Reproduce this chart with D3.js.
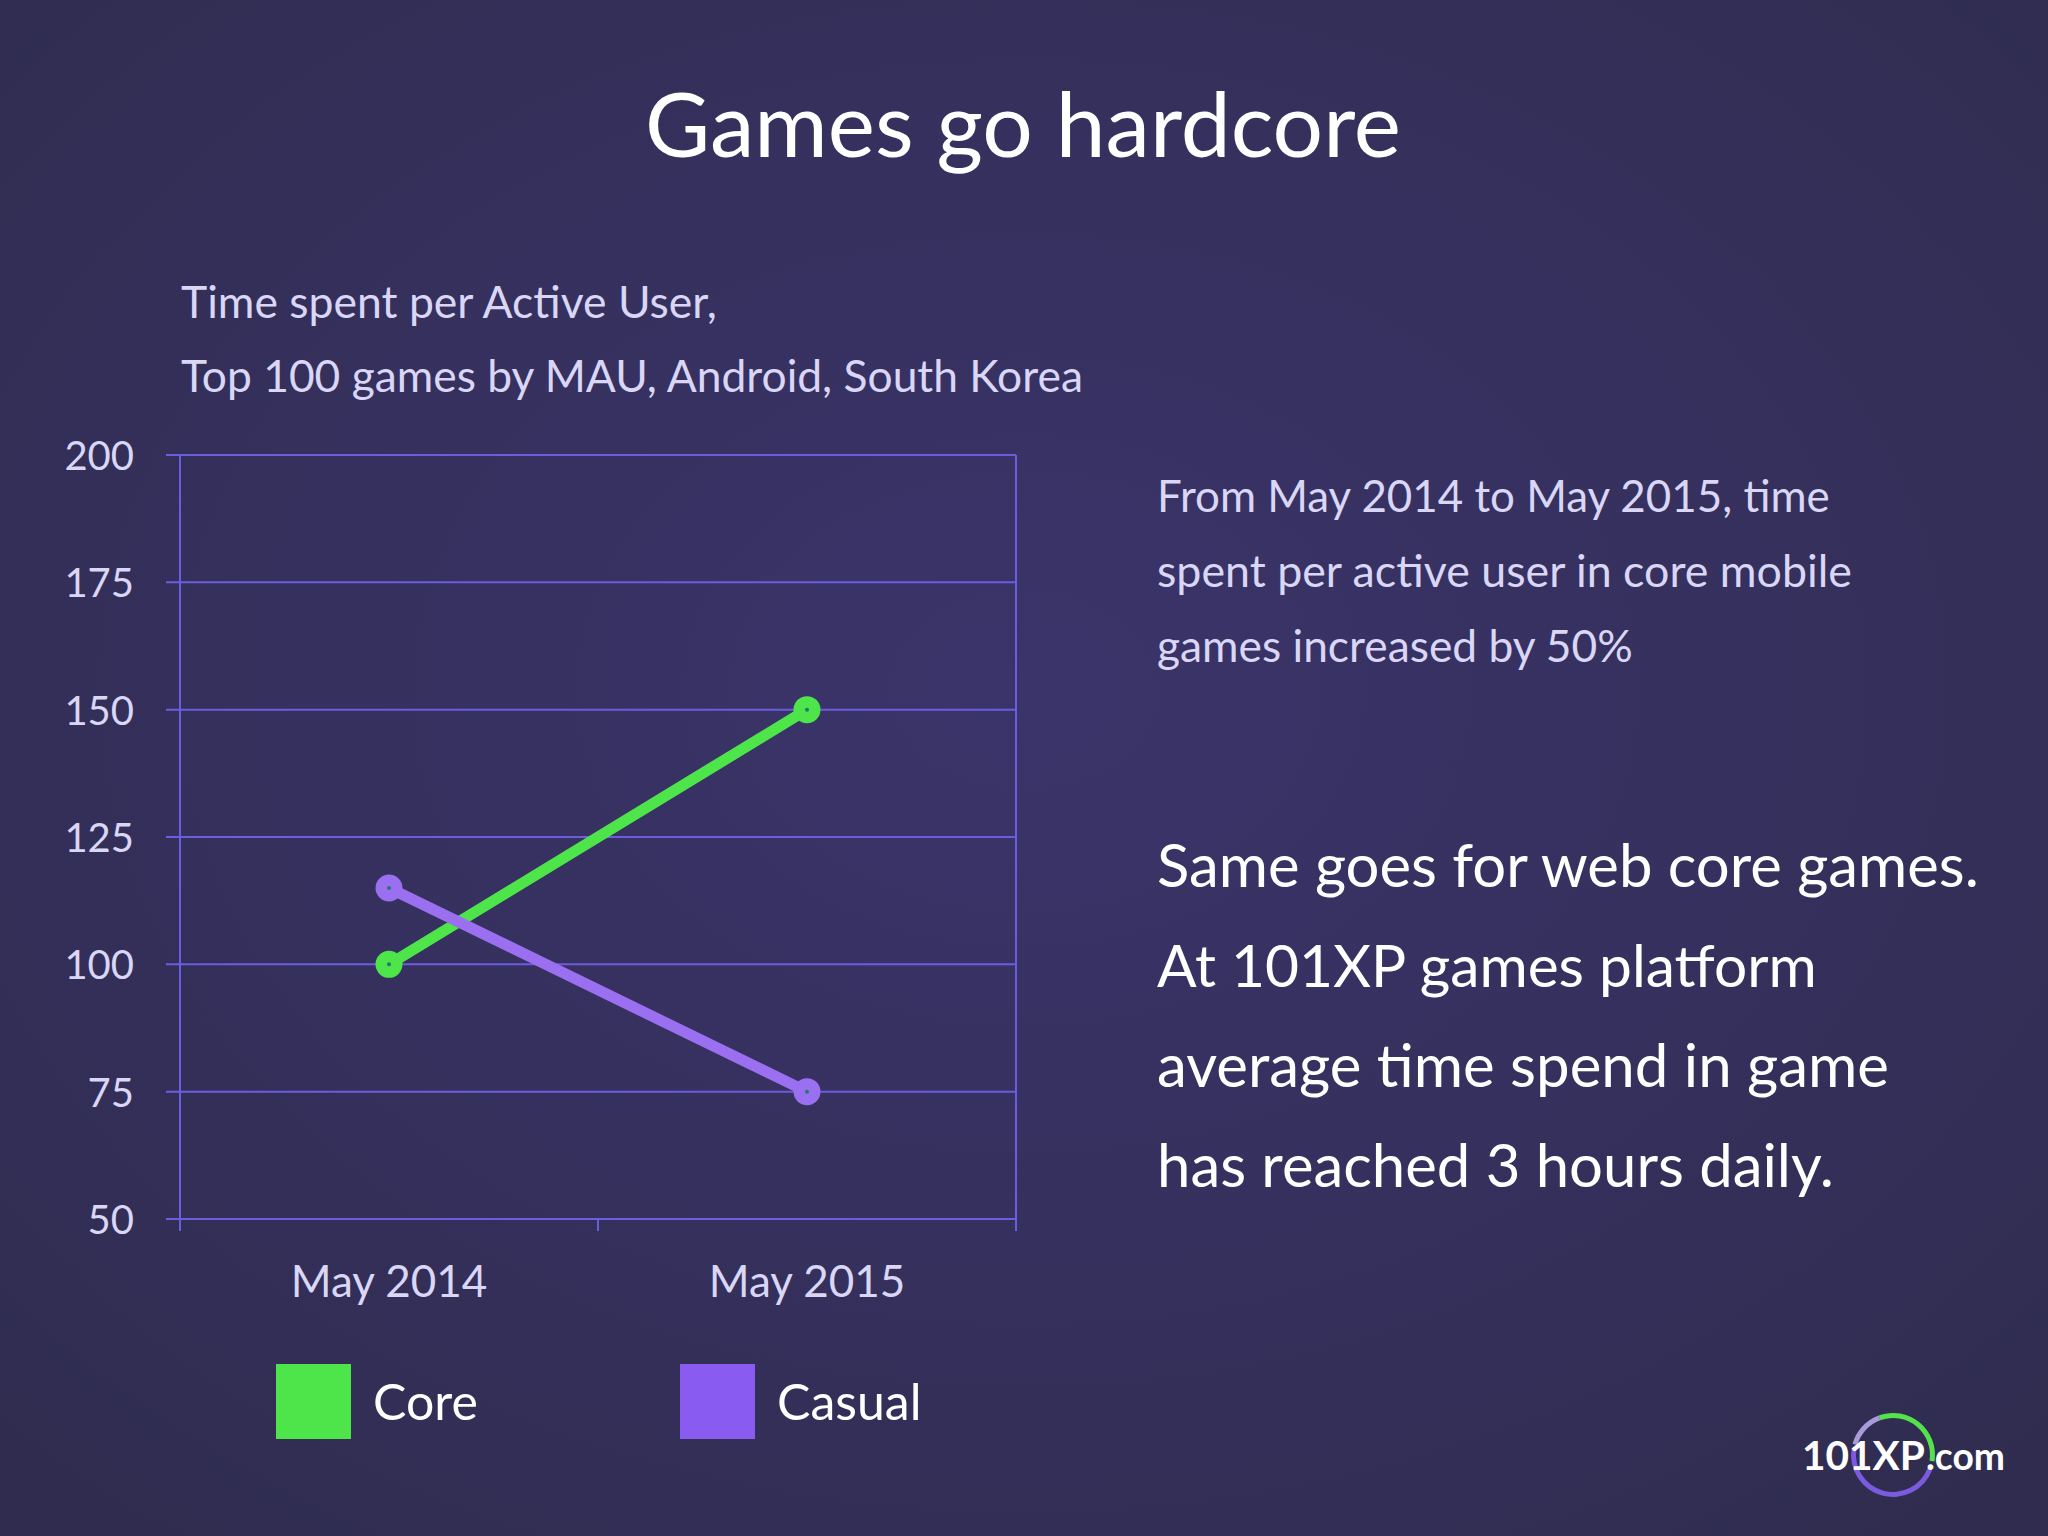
<!DOCTYPE html>
<html><head><meta charset="utf-8">
<script src="https://cdn.jsdelivr.net/npm/d3@7"></script>
<style>html,body{margin:0;padding:0;background:#35305a;}svg{display:block;}</style>
</head><body>
<script>
const categories = ["May 2014", "May 2015"];
const coreValues = [100, 150];
const casualValues = [115, 75];
const yTicks = [50, 75, 100, 125, 150, 175, 200];
const seriesNames = ["Core", "Casual"];
const titleText = "Games go hardcore";
const subtitleLines = ["Time spent per Active User,", "Top 100 games by MAU, Android, South Korea"];
const noteLines = ["From May 2014 to May 2015, time", "spent per active user in core mobile", "games increased by 50%"];
const bigLines = ["Same goes for web core games.", "At 101XP games platform", "average time spend in game", "has reached 3 hours daily."];

const W = 2048, H = 1536;
const FONT = "Lato, 'Open Sans', sans-serif";
const svg = d3.select("body").append("svg").attr("width", W).attr("height", H);
const defs = svg.append("defs");
const bg = defs.append("radialGradient").attr("id","bg").attr("cx","50%").attr("cy","45%").attr("r","75%");
bg.append("stop").attr("offset","0%").attr("stop-color","#3b346b");
bg.append("stop").attr("offset","100%").attr("stop-color","#2f2c4e");
svg.append("rect").attr("width",W).attr("height",H).attr("fill","url(#bg)");

// helper: text fitted to a target width
function fitText(g, str, x, y, targetW, baseSize, opts) {
  const t = g.append("text").attr("x", x).attr("y", y).text(str)
    .attr("font-family", FONT).attr("font-size", baseSize)
    .attr("fill", opts.fill).attr("text-anchor", opts.anchor || "start")
    .attr("font-weight", opts.weight || "normal");
  const w = t.node().getComputedTextLength();
  if (w > 0) t.attr("font-size", baseSize * targetW / w);
  return t;
}

// Title
fitText(svg, titleText, 1023, 157, 756, 90, {fill:"#ffffff", anchor:"middle"});
// Subtitle
fitText(svg, subtitleLines[0], 181, 318, 536, 40, {fill:"#d9d6f6"});
fitText(svg, subtitleLines[1], 181, 392, 902, 40, {fill:"#d9d6f6"});

// Chart
const x = d3.scaleBand().domain(categories).range([180, 1016]);
const y = d3.scaleLinear().domain([50, 200]).range([1219, 455]);
const gridColor = "#6b5ce0";
const chart = svg.append("g");

// horizontal grid
chart.selectAll("line.grid").data(yTicks).join("line")
  .attr("x1", 166).attr("x2", x.range()[1])
  .attr("y1", d => y(d)).attr("y2", d => y(d))
  .attr("stroke", gridColor).attr("stroke-width", 2);
// frame verticals
[x.range()[0], x.range()[1]].forEach(v => {
  chart.append("line").attr("x1", v).attr("x2", v).attr("y1", y(200)).attr("y2", y(50) + 12)
    .attr("stroke", gridColor).attr("stroke-width", 2);
});
// middle x tick (band boundary)
chart.append("line").attr("x1", x("May 2015")).attr("x2", x("May 2015"))
  .attr("y1", y(50)).attr("y2", y(50) + 12).attr("stroke", gridColor).attr("stroke-width", 2);

// y labels via axis
const yAxisG = chart.append("g").attr("transform", "translate(166,0)")
  .call(d3.axisLeft(y).tickValues(yTicks).tickSize(0).tickPadding(32));
yAxisG.select(".domain").remove();
yAxisG.selectAll("text").attr("font-family", FONT).attr("font-size", 40).attr("fill", "#d9d6f6").attr("dy", "0.36em");

// x labels
const xAxisG = chart.append("g").attr("transform", `translate(0,${y(50)})`)
  .call(d3.axisBottom(x).tickSize(0).tickPadding(62));
xAxisG.select(".domain").remove();
xAxisG.selectAll("text").attr("font-family", FONT).attr("font-size", 44).attr("fill", "#d9d6f6").attr("dy", "0.36em");

// lines
const series = [
  {name: seriesNames[0], values: coreValues, color: "#4ee54a"},
  {name: seriesNames[1], values: casualValues, color: "#9a6ff0"}
];
const cx = c => x(c) + x.bandwidth() / 2;
const line = d3.line().x((d, i) => cx(categories[i])).y(d => y(d));
series.forEach(s => {
  chart.append("path").attr("d", line(s.values)).attr("fill", "none")
    .attr("stroke", s.color).attr("stroke-width", 11).attr("stroke-linecap", "round");
});
series.forEach(s => {
  s.values.forEach((v, i) => {
    chart.append("circle").attr("cx", cx(categories[i])).attr("cy", y(v)).attr("r", 13.5).attr("fill", s.color);
    chart.append("circle").attr("cx", cx(categories[i])).attr("cy", y(v)).attr("r", 2).attr("fill", "#1e7a6a");
  });
});

// legend
const legend = svg.append("g");
const legendColors = ["#4ee54a", "#8a5bf0"];
const legendX = [276, 680];
seriesNames.forEach((n, i) => {
  legend.append("rect").attr("x", legendX[i]).attr("y", 1364).attr("width", 75).attr("height", 75).attr("fill", legendColors[i]);
  legend.append("text").attr("x", legendX[i] + 97).attr("y", 1420).text(n)
    .attr("font-family", FONT).attr("font-size", 50).attr("fill", "#ffffff");
});

// right-side texts
noteLines.forEach((l, i) => {
  const widths = [673, 695, 476];
  fitText(svg, l, 1157, 512 + i * 75, widths[i], 40, {fill:"#d9d6f6"});
});
bigLines.forEach((l, i) => {
  const widths = [822, 660, 732, 677];
  fitText(svg, l, 1157, 887 + i * 100, widths[i], 54, {fill:"#ffffff"});
});

// logo
const logo = svg.append("g");
const arc = d3.arc().innerRadius(37).outerRadius(42);
logo.append("path").attr("transform","translate(1893,1455)")
  .attr("d", arc({startAngle: -0.35, endAngle: Math.PI * 0.55})).attr("fill", "#52e24a");
logo.append("path").attr("transform","translate(1893,1455)")
  .attr("d", arc({startAngle: Math.PI * 0.62, endAngle: Math.PI * 1.55})).attr("fill", "#7c5ae0");
logo.append("path").attr("transform","translate(1893,1455)")
  .attr("d", arc({startAngle: -1.3, endAngle: -0.35})).attr("fill", "#a99ad8");
fitText(logo, "101XP", 1802, 1470, 123, 40, {fill:"#ffffff", weight:"bold"});
fitText(logo, ".com", 1926, 1470, 79, 36, {fill:"#ffffff", weight:"bold"});
</script>
</body></html>
